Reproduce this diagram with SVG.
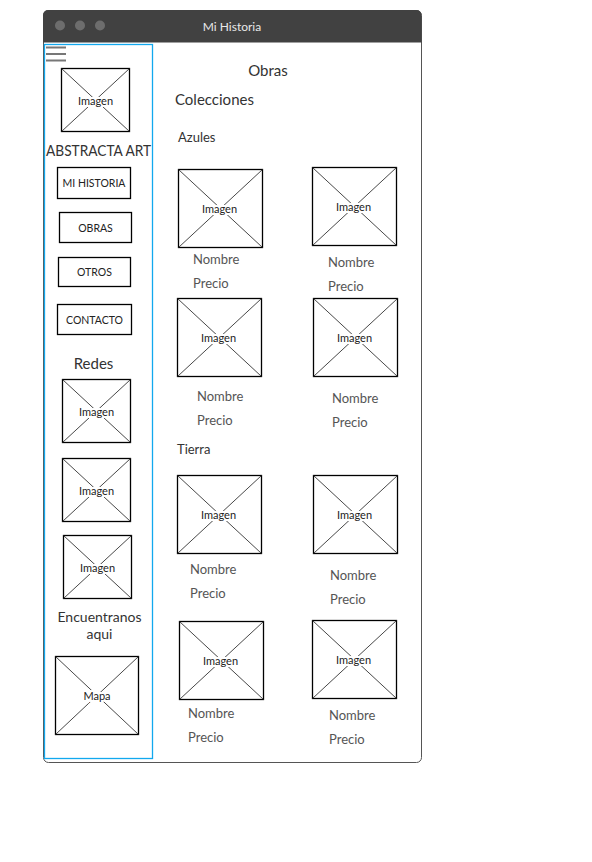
<svg xmlns="http://www.w3.org/2000/svg" width="592" height="862" viewBox="0 0 592 862">
<style>
  text { font-family: Lato, "Open Sans", "Liberation Sans", sans-serif; }
  .ph rect { fill: #fff; stroke: #000; stroke-width: 1.3; }
  .ph line { stroke: #333; stroke-width: 0.9; }
  .ph text { font-size: 11px; fill: #222; text-anchor: middle; dominant-baseline: central; stroke: #fff; stroke-width: 4; paint-order: stroke; }
  .btn rect { fill: #fff; stroke: #000; stroke-width: 1.3; }
  .btn text { font-size: 10.5px; fill: #222; text-anchor: middle; dominant-baseline: central; }
  .lbl { font-size: 13px; fill: #555; dominant-baseline: central; }
  .head { font-size: 15px; fill: #333; dominant-baseline: central; }
  .sub { font-size: 13px; fill: #333; dominant-baseline: central; }
</style>

<g id="window">
  <rect x="43.5" y="10.5" width="378" height="752" rx="5" fill="#fff" stroke="#555" stroke-width="1"/>
  <path d="M43 42.5 V15.5 Q43 10 48.5 10 H416 Q421.5 10 421.5 15.5 V42.5 Z" fill="#414141"/>
  <circle cx="60" cy="25.5" r="5" fill="#6d6d6d"/>
  <circle cx="80" cy="25.5" r="5" fill="#6d6d6d"/>
  <circle cx="100" cy="25.5" r="5" fill="#6d6d6d"/>
  <text x="232" y="26" font-size="12" fill="#e8e8e8" text-anchor="middle" dominant-baseline="central">Mi Historia</text>
</g>

<g id="sidebar">
  <rect x="44.5" y="44.5" width="108" height="714" fill="none" stroke="#12a8ee" stroke-width="1.3"/>
  <g id="hamburger" stroke="#777" stroke-width="2">
    <line x1="46" y1="47.5" x2="66" y2="47.5"/>
    <line x1="46" y1="54" x2="66" y2="54"/>
    <line x1="46" y1="60.5" x2="66" y2="60.5"/>
  </g>
</g>

<g id="logo-image" class="ph">
  <rect x="61.5" y="68.5" width="68" height="63"/>
  <line x1="61.5" y1="68.5" x2="129.5" y2="131.5"/><line x1="129.5" y1="68.5" x2="61.5" y2="131.5"/>
  <text x="95.5" y="100">Imagen</text>
</g>
<text id="brand" x="98.5" y="150" font-size="15" fill="#333" text-anchor="middle" dominant-baseline="central" textLength="105" lengthAdjust="spacingAndGlyphs">ABSTRACTA ART</text>

<g id="btn-historia" class="btn">
  <rect x="57.5" y="167.5" width="73" height="31"/>
  <text x="94" y="183">MI HISTORIA</text>
</g>
<g id="btn-obras" class="btn">
  <rect x="59.5" y="212.5" width="72" height="30"/>
  <text x="95.5" y="228">OBRAS</text>
</g>
<g id="btn-otros" class="btn">
  <rect x="58.5" y="257.5" width="72" height="29"/>
  <text x="94.5" y="272">OTROS</text>
</g>
<g id="btn-contacto" class="btn">
  <rect x="57.5" y="304.5" width="74" height="30"/>
  <text x="94.5" y="320">CONTACTO</text>
</g>

<text id="redes" x="93.5" y="363" font-size="15" fill="#333" text-anchor="middle" dominant-baseline="central">Redes</text>

<g id="red-1" class="ph">
  <rect x="62.5" y="379.5" width="68" height="63"/>
  <line x1="62.5" y1="379.5" x2="130.5" y2="442.5"/><line x1="130.5" y1="379.5" x2="62.5" y2="442.5"/>
  <text x="96.5" y="411">Imagen</text>
</g>
<g id="red-2" class="ph">
  <rect x="62.5" y="458.5" width="68" height="63"/>
  <line x1="62.5" y1="458.5" x2="130.5" y2="521.5"/><line x1="130.5" y1="458.5" x2="62.5" y2="521.5"/>
  <text x="96.5" y="490">Imagen</text>
</g>
<g id="red-3" class="ph">
  <rect x="63.5" y="535.5" width="68" height="63"/>
  <line x1="63.5" y1="535.5" x2="131.5" y2="598.5"/><line x1="131.5" y1="535.5" x2="63.5" y2="598.5"/>
  <text x="97.5" y="567">Imagen</text>
</g>

<text id="encuentranos" font-size="14" fill="#333" text-anchor="middle" dominant-baseline="central"><tspan x="99.5" y="615.5">Encuentranos</tspan><tspan x="99.5" y="632.5">aqui</tspan></text>

<g id="mapa" class="ph">
  <rect x="55.5" y="656.5" width="83" height="78"/>
  <line x1="55.5" y1="656.5" x2="138.5" y2="734.5"/><line x1="138.5" y1="656.5" x2="55.5" y2="734.5"/>
  <text x="97" y="695">Mapa</text>
</g>

<text id="obras-title" class="head" x="268" y="70" text-anchor="middle">Obras</text>
<text id="colecciones" class="head" x="175" y="99">Colecciones</text>
<text id="azules" class="sub" x="178" y="137">Azules</text>

<g id="obra-1" class="ph">
  <rect x="178.5" y="169.5" width="84" height="78"/>
  <line x1="178.5" y1="169.5" x2="262.5" y2="247.5"/><line x1="262.5" y1="169.5" x2="178.5" y2="247.5"/>
  <text x="219.5" y="208">Imagen</text>
</g>
<text class="lbl" x="193" y="259">Nombre</text>
<text class="lbl" x="193" y="283">Precio</text>

<g id="obra-2" class="ph">
  <rect x="312.5" y="167.5" width="84" height="78"/>
  <line x1="312.5" y1="167.5" x2="396.5" y2="245.5"/><line x1="396.5" y1="167.5" x2="312.5" y2="245.5"/>
  <text x="353.5" y="206">Imagen</text>
</g>
<text class="lbl" x="328" y="262">Nombre</text>
<text class="lbl" x="328" y="286">Precio</text>

<g id="obra-3" class="ph">
  <rect x="177.5" y="298.5" width="84" height="78"/>
  <line x1="177.5" y1="298.5" x2="261.5" y2="376.5"/><line x1="261.5" y1="298.5" x2="177.5" y2="376.5"/>
  <text x="218.5" y="337">Imagen</text>
</g>
<text class="lbl" x="197" y="396">Nombre</text>
<text class="lbl" x="197" y="420">Precio</text>

<g id="obra-4" class="ph">
  <rect x="313.5" y="298.5" width="84" height="78"/>
  <line x1="313.5" y1="298.5" x2="397.5" y2="376.5"/><line x1="397.5" y1="298.5" x2="313.5" y2="376.5"/>
  <text x="354.5" y="337">Imagen</text>
</g>
<text class="lbl" x="332" y="398">Nombre</text>
<text class="lbl" x="332" y="422">Precio</text>

<text id="tierra" class="sub" x="177" y="449">Tierra</text>

<g id="obra-5" class="ph">
  <rect x="177.5" y="475.5" width="84" height="78"/>
  <line x1="177.5" y1="475.5" x2="261.5" y2="553.5"/><line x1="261.5" y1="475.5" x2="177.5" y2="553.5"/>
  <text x="218.5" y="514">Imagen</text>
</g>
<text class="lbl" x="190" y="569">Nombre</text>
<text class="lbl" x="190" y="593">Precio</text>

<g id="obra-6" class="ph">
  <rect x="313.5" y="475.5" width="84" height="78"/>
  <line x1="313.5" y1="475.5" x2="397.5" y2="553.5"/><line x1="397.5" y1="475.5" x2="313.5" y2="553.5"/>
  <text x="354.5" y="514">Imagen</text>
</g>
<text class="lbl" x="330" y="575">Nombre</text>
<text class="lbl" x="330" y="599">Precio</text>

<g id="obra-7" class="ph">
  <rect x="179.5" y="621.5" width="84" height="78"/>
  <line x1="179.5" y1="621.5" x2="263.5" y2="699.5"/><line x1="263.5" y1="621.5" x2="179.5" y2="699.5"/>
  <text x="220.5" y="660">Imagen</text>
</g>
<text class="lbl" x="188" y="713">Nombre</text>
<text class="lbl" x="188" y="737">Precio</text>

<g id="obra-8" class="ph">
  <rect x="312.5" y="620.5" width="84" height="78"/>
  <line x1="312.5" y1="620.5" x2="396.5" y2="698.5"/><line x1="396.5" y1="620.5" x2="312.5" y2="698.5"/>
  <text x="353.5" y="659">Imagen</text>
</g>
<text class="lbl" x="329" y="715">Nombre</text>
<text class="lbl" x="329" y="739">Precio</text>

<g id="connectors"></g>
</svg>
